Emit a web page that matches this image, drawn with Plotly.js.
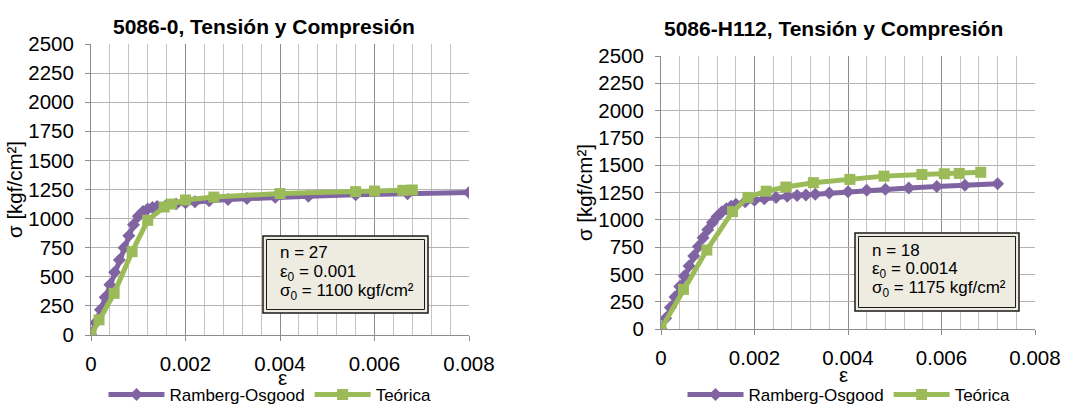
<!DOCTYPE html>
<html>
<head>
<meta charset="utf-8">
<script src="https://cdn.plot.ly/plotly-3.0.1.min.js"></script>
<style>
html,body{margin:0;padding:0;background:#fff;}
#chart{width:1075px;height:406px;}
</style>
</head>
<body>
<div id="chart"></div>
<script>
// ---------- data ----------
const seriesNames = ["Ramberg-Osgood", "Teórica"];
const chartTitles = ["5086-0, Tensión y Compresión", "5086-H112, Tensión y Compresión"];
const xTitle = "ε";
const yTitle = "σ [kgf/cm²]";
const boxTexts = [
  ["n = 27", "ε<sub>0</sub> = 0.001", "σ<sub>0</sub> = 1100 kgf/cm²"],
  ["n = 18", "ε<sub>0</sub> = 0.0014", "σ<sub>0</sub> = 1175 kgf/cm²"]
];
const yTickVals = [0, 250, 500, 750, 1000, 1250, 1500, 1750, 2000, 2250, 2500];
const xTickVals = [0, 0.002, 0.004, 0.006, 0.008];
const xTickText = ["0", "0.002", "0.004", "0.006", "0.008"];

// 5086-0
const epsRO_L = [0, 0.0001, 0.0002, 0.0003, 0.0004, 0.0005, 0.0006, 0.0007, 0.0008, 0.0009, 0.001, 0.0011, 0.0012, 0.0013, 0.0014, 0.0016, 0.0018, 0.0020, 0.0022, 0.0025, 0.0029, 0.0033, 0.0039, 0.0046, 0.0056, 0.0067, 0.0080, 0.0086];
const sigRO_L = [0, 108, 216, 324, 432, 540, 645, 750, 852, 948, 1020, 1060, 1082, 1095, 1104, 1116, 1126, 1136, 1145, 1154, 1164, 1173, 1183, 1193, 1204, 1214, 1225, 1229];
const epsT_L  = [0, 0.00017, 0.00049, 0.00087, 0.0012, 0.00155, 0.0017, 0.0020, 0.0026, 0.0040, 0.0056, 0.0060, 0.0066, 0.0068];
const sigT_L  = [0, 130, 358, 716, 985, 1100, 1125, 1160, 1185, 1215, 1232, 1237, 1243, 1246];

// 5086-H112
const epsRO_R = [0, 0.0001, 0.0002, 0.0003, 0.0004, 0.0005, 0.0006, 0.0007, 0.0008, 0.0009, 0.001, 0.0011, 0.0012, 0.0013, 0.0014, 0.0015, 0.0016, 0.0018, 0.0020, 0.00221, 0.00246, 0.0027, 0.00291, 0.0031, 0.0033, 0.0036, 0.0040, 0.0044, 0.0048, 0.0053, 0.0059, 0.0065, 0.0072];
const sigRO_R = [0, 98, 196, 294, 390, 485, 578, 668, 755, 835, 910, 975, 1030, 1072, 1102, 1125, 1142, 1165, 1180, 1193, 1205, 1215, 1222, 1228, 1235, 1245, 1258, 1270, 1280, 1292, 1304, 1316, 1330];
const epsT_R  = [0, 0.00048, 0.00098, 0.00153, 0.00186, 0.00225, 0.00267, 0.00326, 0.00404, 0.00477, 0.00558, 0.00606, 0.00638, 0.00684];
const sigT_R  = [0, 363, 723, 1075, 1205, 1262, 1300, 1340, 1370, 1400, 1415, 1422, 1425, 1435];

// ---------- style ----------
const W = 1075, H = 406;
const px = x => x / W;
const py = y => 1 - y / H;
const FONT = "Liberation Sans, Arial, sans-serif";
const PURPLE = "#8064A2", GREEN = "#9BBB59";

function roTrace(x, y, xa, ya, lg) {
  return {x, y, xaxis: xa, yaxis: ya, legend: lg, name: seriesNames[0], type: "scatter",
    mode: "lines+markers", showlegend: true, cliponaxis: true,
    line: {color: PURPLE, width: 5},
    marker: {symbol: "diamond", size: 10, color: PURPLE}};
}
function tTrace(x, y, xa, ya, lg) {
  return {x, y, xaxis: xa, yaxis: ya, legend: lg, name: seriesNames[1], type: "scatter",
    mode: "lines+markers", showlegend: true, cliponaxis: true,
    line: {color: GREEN, width: 5},
    marker: {symbol: "square", size: 11, color: GREEN}};
}

const data = [
  roTrace(epsRO_L, sigRO_L, "x", "y", "legend"),
  tTrace(epsT_L, sigT_L, "x", "y", "legend"),
  roTrace(epsRO_R, sigRO_R, "x2", "y2", "legend2"),
  tTrace(epsT_R, sigT_R, "x2", "y2", "legend2")
];

function xAxis(dom, anchor) {
  return {domain: dom, anchor, range: [0, 0.008], tickvals: xTickVals, ticktext: xTickText,
    showgrid: true, gridcolor: "#8C8C8C", gridwidth: 1, zeroline: false,
    showline: true, linecolor: "#8C8C8C", linewidth: 1,
    ticks: "outside", ticklen: 5, tickcolor: "#8C8C8C", ticklabelstandoff: 5,
    minor: {dtick: 0.0004, tick0: 0, showgrid: true, gridcolor: "#C4C4C4", gridwidth: 1, ticks: ""},
    tickfont: {family: FONT, size: 20.5, color: "#000"},
    fixedrange: true};
}
function yAxis(dom, anchor) {
  return {domain: dom, anchor, range: [0, 2500], tickvals: yTickVals,
    showgrid: true, gridcolor: "#B4B4B4", gridwidth: 1, zeroline: false,
    showline: true, linecolor: "#8C8C8C", linewidth: 1,
    ticks: "outside", ticklen: 5, tickcolor: "#8C8C8C", ticklabelstandoff: 7,
    tickfont: {family: FONT, size: 20.5, color: "#000"},
    title: {text: yTitle, font: {family: FONT, size: 20.5, color: "#000"}, standoff: 0},
    fixedrange: true};
}

// text boxes (pixel rectangles)
const boxes = [
  {x0: 263, y0: 236, x1: 428, y1: 313},
  {x0: 855, y0: 233, x1: 1019, y1: 311}
];
const lineOffsets = [17, 36.5, 56];
const shapes = [];
const annotations = [];
boxes.forEach((b, i) => {
  shapes.push({type: "rect", xref: "paper", yref: "paper",
    x0: px(b.x0), x1: px(b.x1), y0: py(b.y1), y1: py(b.y0),
    line: {color: "#1a1a1a", width: 1.5}, fillcolor: "#EEECE1", layer: "above"});
  shapes.push({type: "rect", xref: "paper", yref: "paper",
    x0: px(b.x0 + 3.5), x1: px(b.x1 - 3.5), y0: py(b.y1 - 3.5), y1: py(b.y0 + 3.5),
    line: {color: "#1a1a1a", width: 1}, fillcolor: "rgba(0,0,0,0)", layer: "above"});
  boxTexts[i].forEach((t, k) => {
    annotations.push({xref: "paper", yref: "paper", x: px(b.x0 + 15), y: py(b.y0 + lineOffsets[k]),
      xanchor: "left", yanchor: "middle", align: "left", showarrow: false,
      text: t, font: {family: FONT, size: 17, color: "#000"}});
  });
});
// chart titles
annotations.push({xref: "paper", yref: "paper", x: px(264), y: py(27), xanchor: "center", yanchor: "middle",
  showarrow: false, text: "<b>" + chartTitles[0] + "</b>", font: {family: FONT, size: 21, color: "#000"}});
annotations.push({xref: "paper", yref: "paper", x: px(833), y: py(28), xanchor: "center", yanchor: "middle",
  showarrow: false, text: "<b>" + chartTitles[1] + "</b>", font: {family: FONT, size: 21, color: "#000"}});
// x-axis titles
annotations.push({xref: "paper", yref: "paper", x: px(282), y: py(377), xanchor: "center", yanchor: "middle",
  showarrow: false, text: xTitle, font: {family: FONT, size: 20.5, color: "#000"}});
annotations.push({xref: "paper", yref: "paper", x: px(843), y: py(374), xanchor: "center", yanchor: "middle",
  showarrow: false, text: xTitle, font: {family: FONT, size: 20.5, color: "#000"}});

const legendBase = {orientation: "h", xanchor: "center", yanchor: "middle", y: py(395),
  font: {family: FONT, size: 17, color: "#000"}, bgcolor: "rgba(0,0,0,0)", itemwidth: 56,
  itemclick: false, itemdoubleclick: false};

const layout = {
  width: W, height: H,
  margin: {l: 0, r: 0, t: 0, b: 0, autoexpand: false},
  paper_bgcolor: "#fff", plot_bgcolor: "#fff",
  font: {family: FONT, color: "#000"},
  xaxis: xAxis([px(91), px(469)], "y"),
  yaxis: yAxis([py(335), py(44)], "x"),
  xaxis2: xAxis([px(661), px(1035)], "y2"),
  yaxis2: yAxis([py(329), py(56)], "x2"),
  legend: Object.assign({}, legendBase, {x: px(270)}),
  legend2: Object.assign({}, legendBase, {x: px(849)}),
  shapes, annotations,
  showlegend: true
};

Plotly.newPlot("chart", data, layout, {displayModeBar: false, staticPlot: true});
</script>
</body>
</html>
